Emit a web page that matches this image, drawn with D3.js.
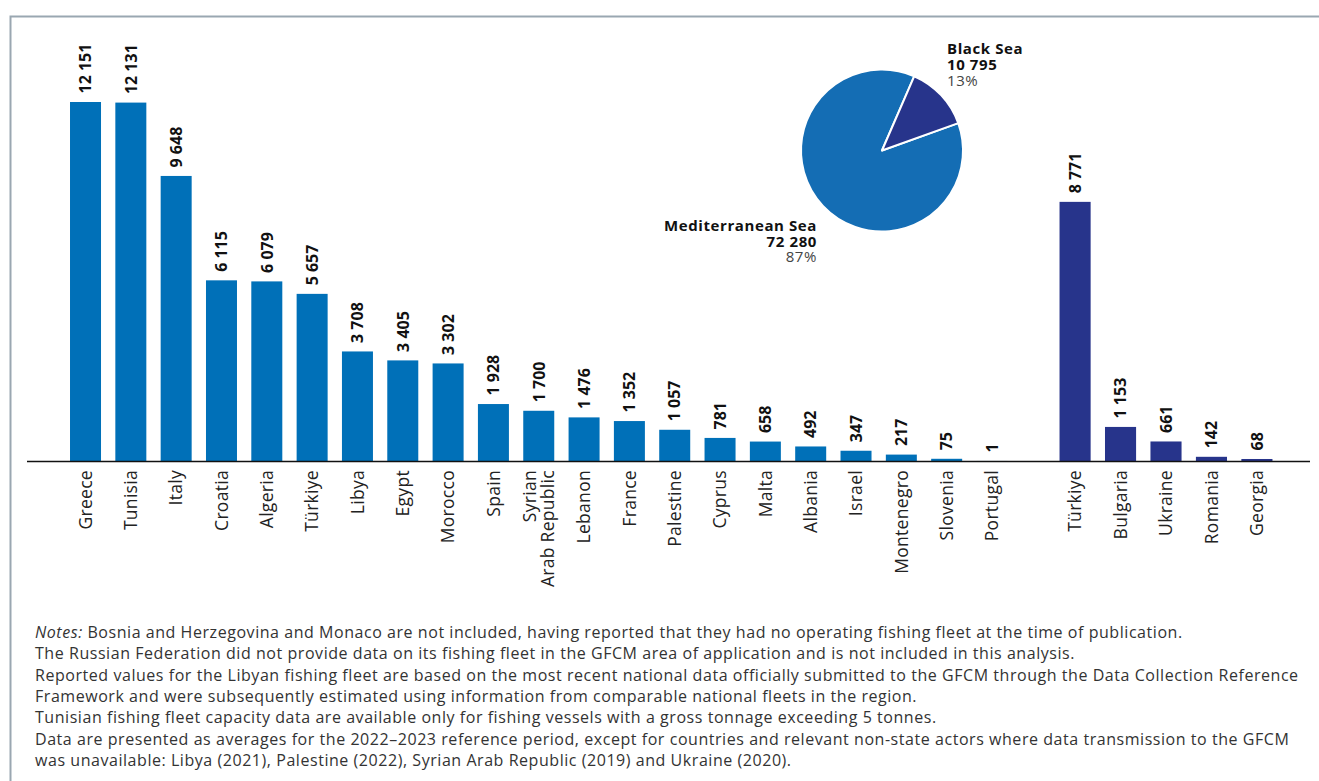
<!DOCTYPE html>
<html>
<head>
<meta charset="utf-8">
<script src="https://cdn.jsdelivr.net/npm/d3@7"></script>
<style>
  html, body { margin: 0; padding: 0; background: #fff; }
  svg { display: block; }
  text { font-family: "Open Sans", "Noto Sans", sans-serif; }
</style>
</head>
<body>
<svg id="chart" width="1319" height="781"></svg>
<script>
// ---- Data ----
const medCountries = ["Greece","Tunisia","Italy","Croatia","Algeria","Türkiye","Libya","Egypt","Morocco","Spain","Syrian Arab Republic","Lebanon","France","Palestine","Cyprus","Malta","Albania","Israel","Montenegro","Slovenia","Portugal"];
const medValues = [12151,12131,9648,6115,6079,5657,3708,3405,3302,1928,1700,1476,1352,1057,781,658,492,347,217,75,1];
const bsCountries = ["Türkiye","Bulgaria","Ukraine","Romania","Georgia"];
const bsValues = [8771,1153,661,142,68];
const seaNames = ["Mediterranean Sea","Black Sea"];
const seaTotals = [72280,10795];
const seaShares = ["87%","13%"];
const notesLines = [
  "Bosnia and Herzegovina and Monaco are not included, having reported that they had no operating fishing fleet at the time of publication.",
  "The Russian Federation did not provide data on its fishing fleet in the GFCM area of application and is not included in this analysis.",
  "Reported values for the Libyan fishing fleet are based on the most recent national data officially submitted to the GFCM through the Data Collection Reference",
  "Framework and were subsequently estimated using information from comparable national fleets in the region.",
  "Tunisian fishing fleet capacity data are available only for fishing vessels with a gross tonnage exceeding 5 tonnes.",
  "Data are presented as averages for the 2022–2023 reference period, except for countries and relevant non-state actors where data transmission to the GFCM",
  "was unavailable: Libya (2021), Palestine (2022), Syrian Arab Republic (2019) and Ukraine (2020)."
];

// ---- Setup ----
const svg = d3.select("#chart");
const medColor = "#0070b8";
const bsColor = "#27348b";
const fmt = d3.formatLocale({decimal: ".", thousands: " ", grouping: [3], currency: ["", ""]}).format(",d");

// frame
svg.append("path")
  .attr("d", "M10.5,781 L10.5,16.5 L1319,16.5")
  .attr("fill", "none").attr("stroke", "#9aa7b1").attr("stroke-width", 2);

const baseY = 461;
const y = d3.scaleLinear().domain([0, d3.max(medValues)]).range([baseY, 102]);

const pad = 0.316;
const xMed = d3.scaleBand().domain(medCountries).range([62.85, 1014.65]).paddingInner(pad).paddingOuter(pad / 2);
const xBs = d3.scaleBand().domain(bsCountries).range([1052.35, 1279.65]).paddingInner(pad).paddingOuter(pad / 2);

function drawGroup(cls, countries, values, x, color) {
  const data = countries.map((c, i) => ({c, v: values[i]}));
  const g = svg.append("g").attr("class", cls);
  g.selectAll("rect").data(data).join("rect")
    .attr("x", d => x(d.c))
    .attr("width", x.bandwidth())
    .attr("y", d => y(d.v))
    .attr("height", d => baseY - y(d.v))
    .attr("fill", color);
  g.selectAll("text.val").data(data).join("text")
    .attr("class", "val")
    .attr("transform", d => `translate(${x(d.c) + x.bandwidth() / 2},${y(d.v) - 8.5}) rotate(-90)`)
    .attr("dy", "0.36em")
    .attr("text-anchor", "start")
    .attr("font-size", 16)
    .attr("font-weight", "bold")
    .attr("fill", "#111")
    .text(d => fmt(d.v));

  const axis = d3.axisBottom(x).tickSize(0).tickPadding(0);
  const ag = svg.append("g").attr("transform", `translate(0,${baseY})`).call(axis);
  ag.select(".domain").remove();
  ag.selectAll(".tick text")
    .attr("transform", "rotate(-90)")
    .attr("x", -9).attr("y", 0).attr("dy", "0.36em")
    .attr("text-anchor", "end")
    .attr("font-size", 17.5)
    .attr("letter-spacing", 0.3)
    .attr("font-family", "'Open Sans', 'Noto Sans', sans-serif")
    .attr("fill", "#222")
    .each(function(d) {
      if (d === "Syrian Arab Republic") {
        const t = d3.select(this);
        t.text(null).attr("dy", null);
        t.append("tspan").attr("x", -9).attr("dy", "-0.15em").text("Syrian");
        t.append("tspan").attr("x", -9).attr("dy", "1em").text("Arab Republic");
      }
    });
}

drawGroup("med", medCountries, medValues, xMed, medColor);
drawGroup("bs", bsCountries, bsValues, xBs, bsColor);

// baseline
svg.append("line")
  .attr("x1", 27).attr("x2", 1310)
  .attr("y1", baseY + 0.5).attr("y2", baseY + 0.5)
  .attr("stroke", "#111").attr("stroke-width", 1.3);

// ---- Pie ----
const pieData = seaNames.map((n, i) => ({n, v: seaTotals[i], s: seaShares[i]}));
const pieStart = 0.41 - 2 * Math.PI * seaTotals[0] / d3.sum(seaTotals);
const pie = d3.pie().value(d => d.v).sort(null).startAngle(pieStart).endAngle(pieStart + 2 * Math.PI);
const arc = d3.arc().innerRadius(0).outerRadius(81);
const pg = svg.append("g").attr("transform", "translate(882,150.5)");
pg.selectAll("path").data(pie(pieData)).join("path")
  .attr("d", arc)
  .attr("fill", (d, i) => i === 0 ? "#146db4" : bsColor)
  .attr("stroke", "#fff").attr("stroke-width", 2).attr("stroke-linejoin", "round");

function pieLabel(x, yBase, anchor, d) {
  const g = svg.append("g").attr("text-anchor", anchor).attr("font-size", 15).attr("letter-spacing", 0.6);
  g.append("text").attr("x", x).attr("y", yBase).attr("font-weight", "bold").attr("fill", "#111").text(d.n);
  g.append("text").attr("x", x).attr("y", yBase + 15.8).attr("font-weight", "bold").attr("fill", "#111").text(fmt(d.v));
  g.append("text").attr("x", x).attr("y", yBase + 31.6).attr("fill", "#444").text(d.s);
}
pieLabel(947, 54.3, "start", pieData[1]);
pieLabel(817, 230.7, "end", pieData[0]);

// ---- Notes ----
const notes = svg.append("text").attr("font-size", 16).attr("letter-spacing", 0.55).attr("fill", "#333");
notesLines.forEach((line, i) => {
  const ts = notes.append("tspan").attr("x", 35).attr("y", 638 + i * 21.3);
  if (i === 0) {
    ts.append("tspan").attr("font-style", "italic").text("Notes:");
    ts.append("tspan").text(" " + line);
  } else {
    ts.text(line);
  }
});
</script>
</body>
</html>
